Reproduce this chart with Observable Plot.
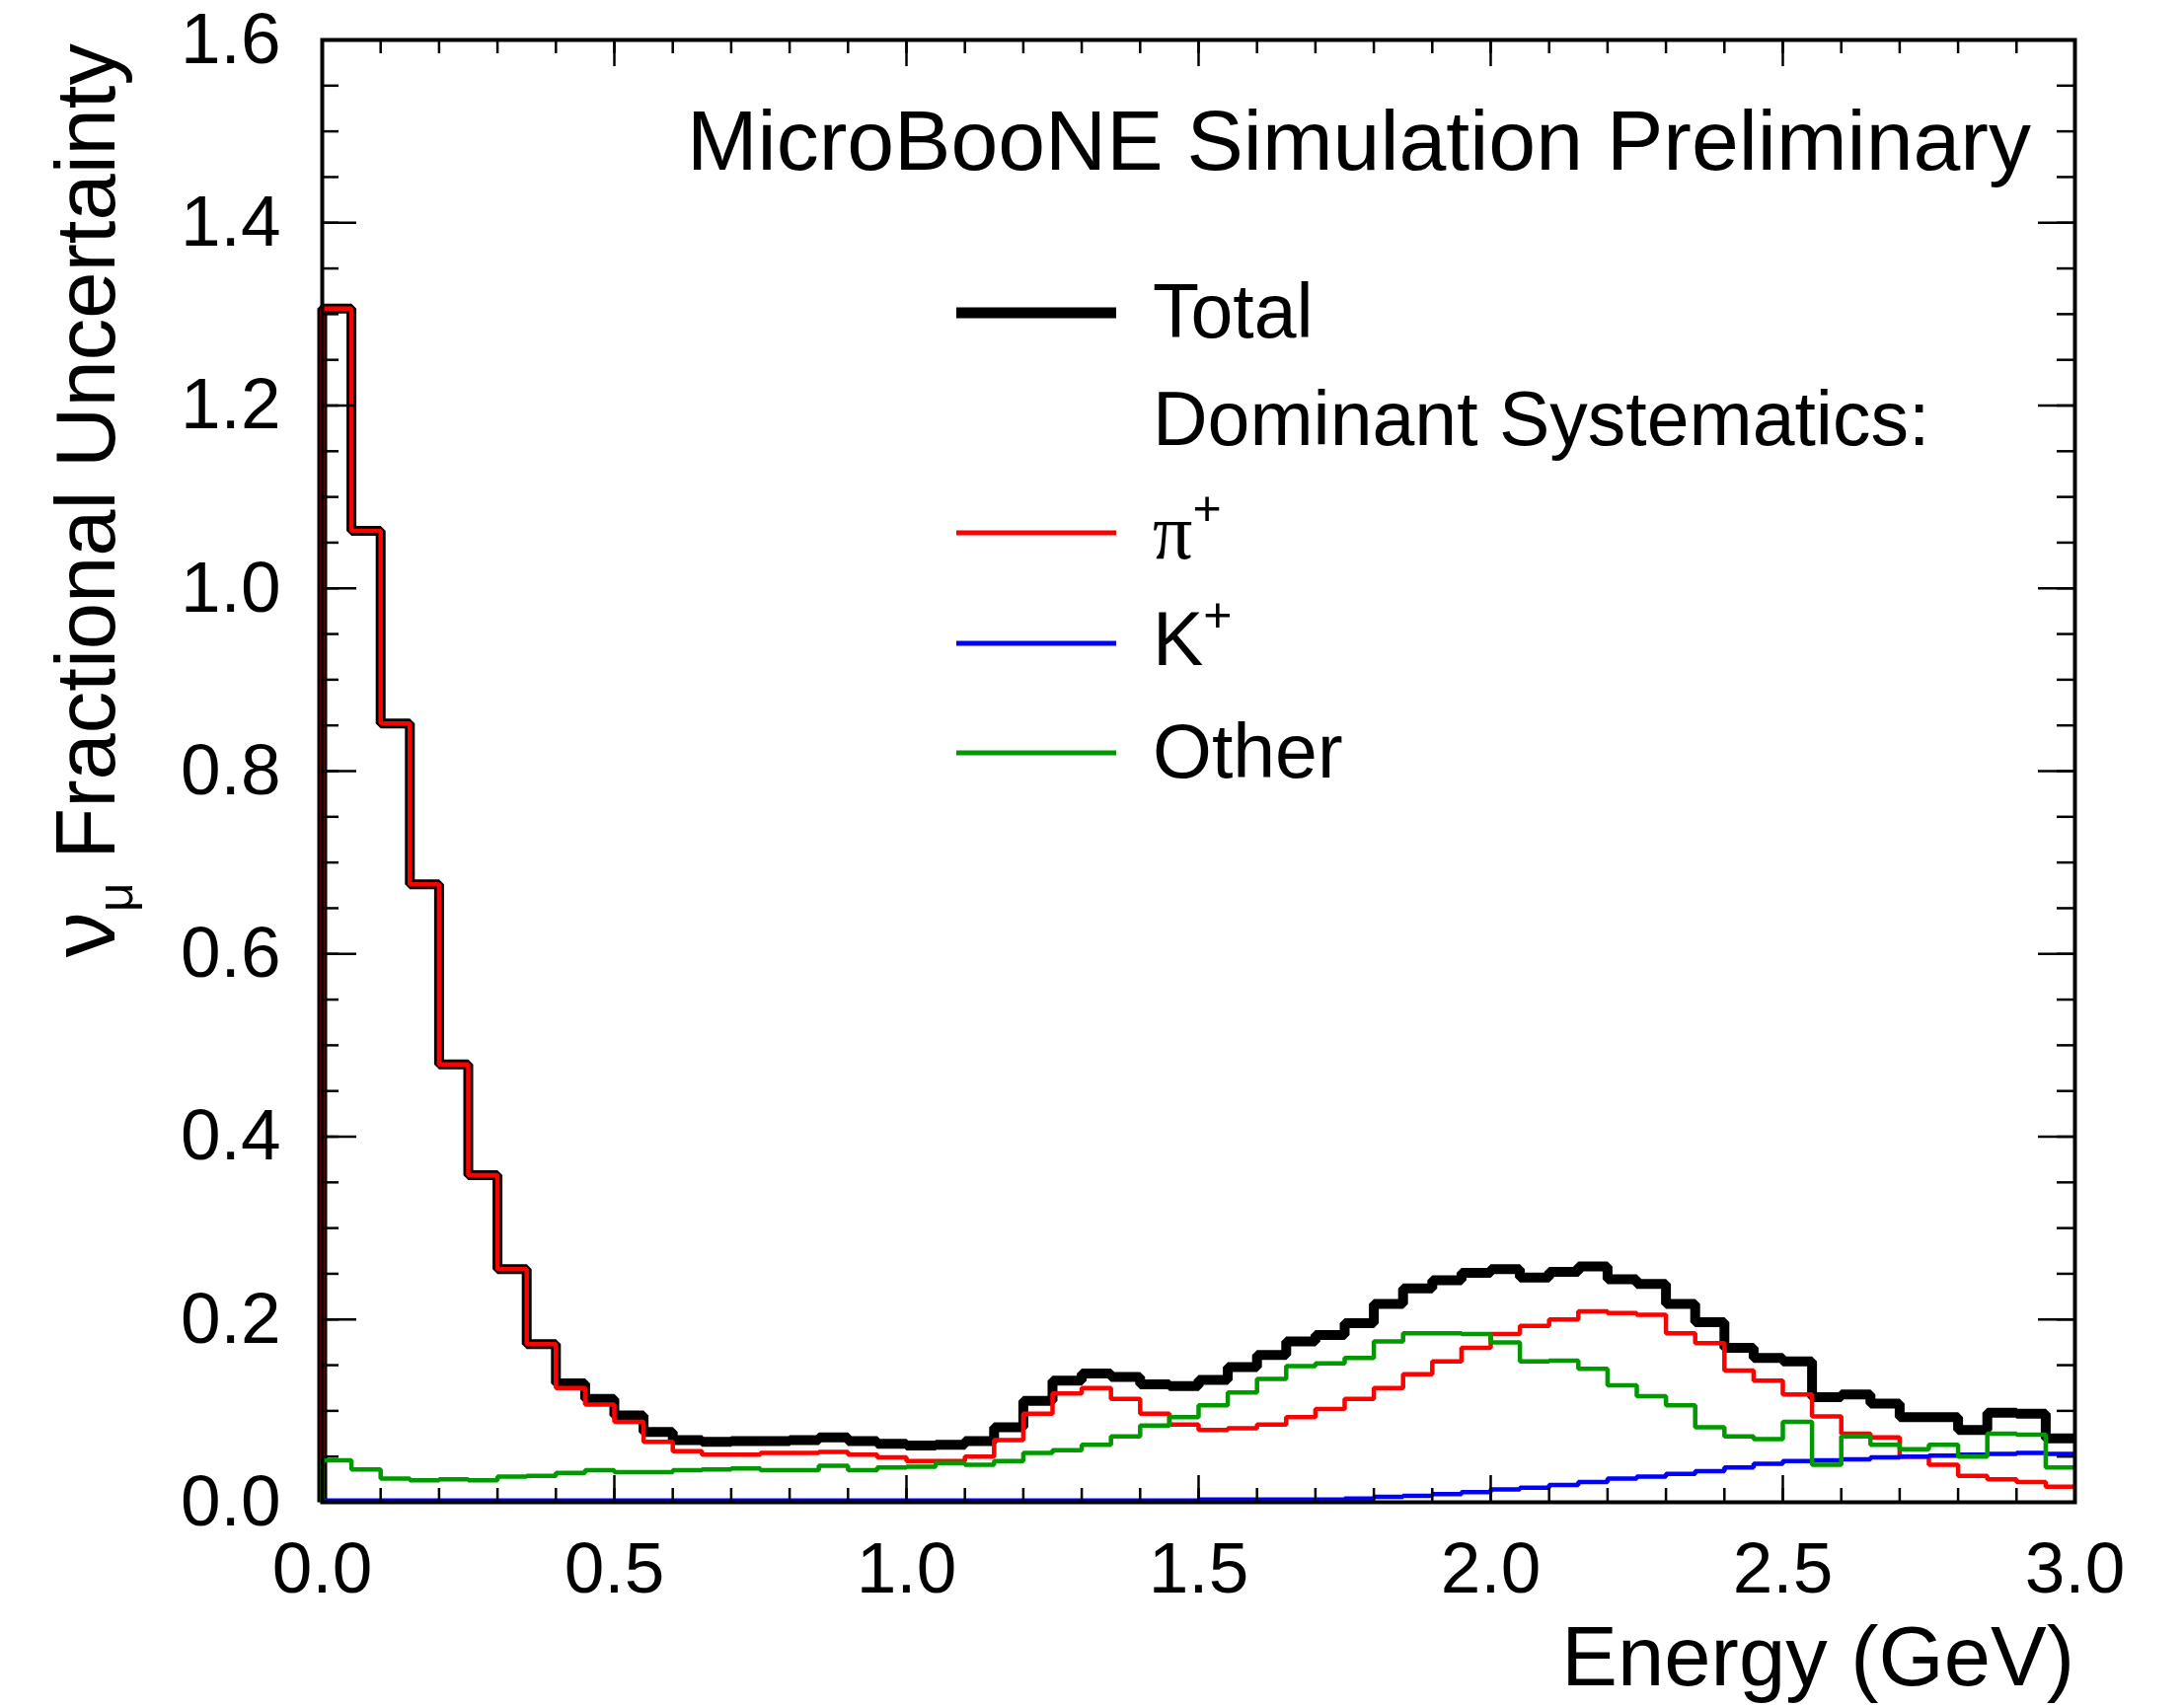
<!DOCTYPE html>
<html><head><meta charset="utf-8">
<script src="https://cdn.jsdelivr.net/npm/d3@7"></script>
<script src="https://cdn.jsdelivr.net/npm/@observablehq/plot@0.6"></script>
<style>
html,body{margin:0;padding:0;background:#fff;}
#chart svg{display:block;}
</style>
</head><body><div id="chart"></div>
<script>
// Histogram: 60 bins of 0.05 GeV from 0 to 3 GeV
const binWidth = 0.05;
const total = [1.306,1.063,0.852,0.676,0.479,0.358,0.255,0.173,0.130,0.113,
  0.095,0.077,0.068,0.066,0.067,0.067,0.068,0.071,0.067,0.064,
  0.062,0.063,0.067,0.082,0.111,0.133,0.141,0.137,0.129,0.127,
  0.134,0.148,0.161,0.176,0.183,0.196,0.217,0.234,0.243,0.251,
  0.255,0.246,0.252,0.258,0.244,0.239,0.217,0.197,0.169,0.158,
  0.154,0.115,0.118,0.108,0.093,0.093,0.079,0.098,0.097,0.070];
const piPlus = [1.306,1.063,0.852,0.676,0.479,0.358,0.255,0.173,0.125,0.107,
  0.088,0.066,0.056,0.052,0.052,0.054,0.054,0.055,0.052,0.049,
  0.045,0.045,0.050,0.068,0.097,0.119,0.125,0.113,0.097,0.085,
  0.079,0.081,0.085,0.093,0.102,0.113,0.125,0.140,0.154,0.169,
  0.184,0.193,0.200,0.209,0.207,0.205,0.185,0.174,0.144,0.133,
  0.118,0.094,0.075,0.071,0.050,0.041,0.029,0.025,0.022,0.017];
const kPlus = [0.002,0.002,0.002,0.002,0.002,0.002,0.002,0.002,0.002,0.002,
  0.002,0.002,0.002,0.002,0.002,0.002,0.002,0.002,0.002,0.002,
  0.002,0.002,0.002,0.002,0.002,0.002,0.002,0.002,0.002,0.002,
  0.003,0.003,0.003,0.003,0.003,0.004,0.006,0.007,0.009,0.011,
  0.014,0.016,0.019,0.022,0.026,0.028,0.031,0.034,0.038,0.042,
  0.045,0.046,0.047,0.049,0.050,0.051,0.052,0.053,0.054,0.053];
const other = [0.046,0.036,0.026,0.024,0.025,0.024,0.028,0.029,0.032,0.035,
  0.033,0.033,0.035,0.036,0.037,0.035,0.035,0.040,0.035,0.038,
  0.039,0.043,0.041,0.045,0.054,0.057,0.063,0.072,0.084,0.093,
  0.106,0.120,0.135,0.149,0.152,0.158,0.176,0.185,0.185,0.184,
  0.175,0.154,0.155,0.146,0.128,0.116,0.106,0.082,0.072,0.069,
  0.088,0.041,0.072,0.063,0.058,0.063,0.050,0.075,0.074,0.038];

const xMajor = [0, 0.5, 1.0, 1.5, 2.0, 2.5, 3.0];
const xTickLabels = ["0.0","0.5","1.0","1.5","2.0","2.5","3.0"];
const yMajor = [0, 0.2, 0.4, 0.6, 0.8, 1.0, 1.2, 1.4, 1.6];
const yTickLabels = ["0.0","0.2","0.4","0.6","0.8","1.0","1.2","1.4","1.6"];
const xMinor = d3.range(0, 31).map(i => i / 10);
const yMinor = d3.range(0, 33).map(i => i / 20);

const series = [
  {name: "Total", values: total, color: "#000000", width: 10},
  {name: "pi", values: piPlus, color: "#ff0000", width: 4.5},
  {name: "K", values: kPlus, color: "#0000ff", width: 4.5},
  {name: "Other", values: other, color: "#009900", width: 4.5}
];

function steps(values) {
  const pts = [{x: 0, y: 0}];
  values.forEach((v, i) => pts.push({x: i * binWidth, y: v}));
  pts.push({x: values.length * binWidth, y: values[values.length - 1]});
  return pts;
}

const W = 2213, H = 1730, mL = 326, mR = 111, mT = 40, mB = 208;
const pw = W - mL - mR, ph = H - mT - mB;
const font = "'Liberation Sans', Arial, Helvetica, sans-serif";
const tickStyle = {stroke: "#000", strokeWidth: 2.5};

const chart = Plot.plot({
  width: W, height: H,
  marginLeft: mL, marginRight: mR, marginTop: mT, marginBottom: mB,
  style: {fontFamily: font, background: "#fff", color: "#000"},
  x: {domain: [0, 3]},
  y: {domain: [0, 1.6]},
  marks: [
    ...series.map(s => Plot.line(steps(s.values), {
      x: "x", y: "y", curve: "step-after", stroke: s.color,
      strokeWidth: s.width, strokeLinejoin: "miter", strokeLinecap: "butt"
    })),
    Plot.tickY(yMinor, {y: d => d, ...tickStyle, insetRight: pw - 17}),
    Plot.tickY(yMajor, {y: d => d, ...tickStyle, insetRight: pw - 35}),
    Plot.tickY(yMinor, {y: d => d, ...tickStyle, insetLeft: pw - 18}),
    Plot.tickY(yMajor, {y: d => d, ...tickStyle, insetLeft: pw - 37}),
    Plot.tickX(xMinor, {x: d => d, ...tickStyle, insetTop: ph - 14}),
    Plot.tickX(xMajor, {x: d => d, ...tickStyle, insetTop: ph - 27}),
    Plot.tickX(xMinor, {x: d => d, ...tickStyle, insetBottom: ph - 14}),
    Plot.tickX(xMajor, {x: d => d, ...tickStyle, insetBottom: ph - 27}),
    Plot.frame({stroke: "#000", strokeWidth: 4}),
    Plot.axisX(xMajor, {anchor: "bottom", tickSize: 0, tickPadding: 40, fontSize: 73,
      tickFormat: d => xTickLabels[xMajor.indexOf(d)], label: null}),
    Plot.axisY(yMajor, {anchor: "left", tickSize: 0, tickPadding: 42, fontSize: 73,
      tickFormat: d => yTickLabels[yMajor.indexOf(d)], label: null})
  ]
});
document.getElementById("chart").appendChild(chart);

const svg = d3.select(chart);
// Y axis title
const yt = svg.append("text")
  .attr("transform", "translate(116,44) rotate(-90)")
  .attr("text-anchor", "end").attr("font-size", 85).attr("font-family", font).attr("fill", "#000");
yt.append("tspan").attr("font-size", 92).text("ν");
yt.append("tspan").attr("font-size", 52).attr("dy", 18).text("μ");
yt.append("tspan").attr("dy", -18).text(" Fractional Uncertainty");

// X axis title
svg.append("text").attr("x", 2102).attr("y", 1708).attr("text-anchor", "end")
  .attr("font-size", 85).attr("font-family", font).attr("fill", "#000").text("Energy (GeV)");

// Top label
svg.append("text").attr("x", 2058).attr("y", 172).attr("text-anchor", "end")
  .attr("font-size", 86).attr("font-family", font).attr("fill", "#000").text("MicroBooNE Simulation Preliminary");

// Legend
const legend = [
  {label: "Total", color: "#000", width: 11, y: 317, base: 342},
  {label: null, y: 0, base: 451, text: "Dominant Systematics:"},
  {label: "π", sup: "+", serif: true, color: "#ff0000", width: 5, y: 540, base: 566},
  {label: "K", sup: "+", color: "#0000ff", width: 5, y: 652, base: 674},
  {label: "Other", color: "#009900", width: 5, y: 763, base: 788}
];
legend.forEach(e => {
  if (e.color) {
    svg.append("line").attr("x1", 969).attr("x2", 1131).attr("y1", e.y).attr("y2", e.y)
      .attr("stroke", e.color).attr("stroke-width", e.width);
  }
  const t = svg.append("text").attr("x", 1168).attr("y", e.base).attr("text-anchor", "start")
    .attr("font-size", 77).attr("font-family", font).attr("fill", "#000");
  if (e.text) { t.text(e.text); return; }
  const main = t.append("tspan").text(e.label);
  if (e.serif) main.attr("font-family", "'Liberation Serif', 'DejaVu Serif', serif").attr("font-size", 80);
  if (e.sup) t.append("tspan").attr("font-size", 50).attr("dy", -34).text(e.sup);
});
</script>
</body></html>
